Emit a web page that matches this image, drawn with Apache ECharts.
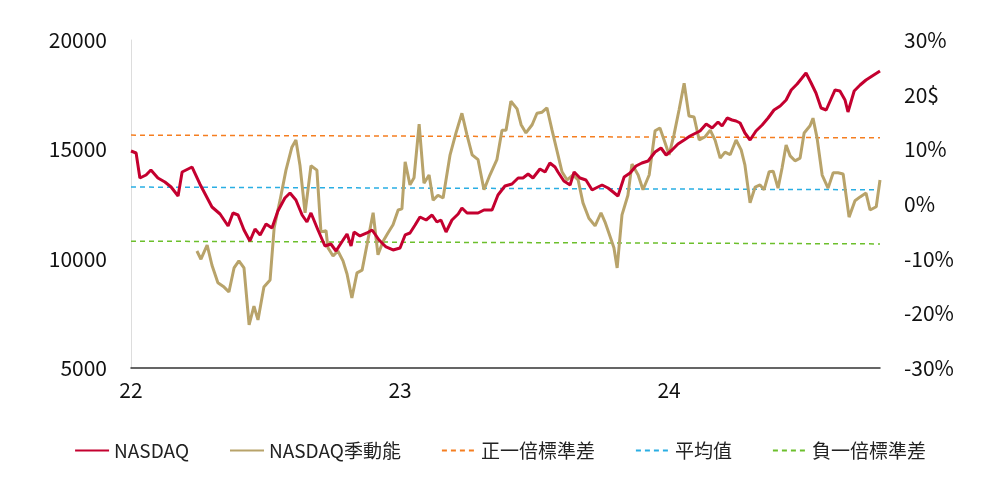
<!DOCTYPE html>
<html>
<head>
<meta charset="utf-8">
<script src="https://cdn.jsdelivr.net/npm/echarts@6/dist/echarts.min.js"></script>
<style>html,body{margin:0;padding:0;background:#fff}#chart{width:1000px;height:493px}</style>
</head>
<body>
<div id="chart"></div>
<script>
// x = decimal year (2022.0 = start of 2022)
var nasdaq = [
  [0.000,14924],[0.019,14833],[0.033,13689],[0.056,13826],[0.074,14055],[0.100,13689],[0.126,13506],[0.149,13278],
  [0.175,12866],[0.190,13964],[0.227,14192],[0.256,13415],[0.301,12363],[0.331,12043],[0.361,11494],[0.379,12089],
  [0.398,11997],[0.420,11311],[0.442,10808],[0.461,11357],[0.480,11082],[0.502,11586],[0.524,11403],[0.546,12180],
  [0.572,12775],[0.591,13003],[0.613,12683],[0.636,11997],[0.654,11677],[0.669,12089],[0.695,11311],[0.721,10580],
  [0.743,10671],[0.762,10351],[0.781,10717],[0.803,11128],[0.818,10580],[0.829,11220],[0.851,11037],[0.877,11174],
  [0.896,11311],[0.922,10854],[0.948,10534],[0.974,10397],[1.000,10488],[1.019,11083],[1.037,11174],[1.056,11540],
  [1.074,11906],[1.097,11769],[1.119,11997],[1.137,11677],[1.152,11769],[1.171,11220],[1.193,11769],[1.216,12043],
  [1.230,12317],[1.249,12089],[1.290,12089],[1.312,12226],[1.342,12226],[1.364,12912],[1.390,13324],[1.416,13415],
  [1.439,13689],[1.457,13689],[1.476,13872],[1.494,13689],[1.520,14101],[1.539,13964],[1.557,14375],[1.576,14192],
  [1.587,13964],[1.609,13552],[1.632,13369],[1.647,13964],[1.669,13689],[1.691,13598],[1.714,13140],[1.728,13232],
  [1.751,13369],[1.773,13232],[1.792,13049],[1.810,12866],[1.833,13735],[1.855,13918],[1.877,14238],[1.899,14375],
  [1.922,14467],[1.948,14878],[1.970,15061],[1.989,14741],[2.011,14970],[2.033,15244],[2.056,15427],[2.078,15610],
  [2.100,15747],[2.115,15839],[2.138,16159],[2.160,15976],[2.182,16250],[2.197,16067],[2.216,16433],[2.234,16342],
  [2.249,16296],[2.264,16204],[2.282,15747],[2.301,15427],[2.323,15839],[2.346,16113],[2.368,16433],[2.390,16799],
  [2.413,16982],[2.435,17256],[2.454,17714],[2.476,17988],[2.494,18262],[2.509,18491],[2.528,18034],[2.546,17576],
  [2.565,16890],[2.584,16799],[2.602,17302],[2.617,17714],[2.635,17668],[2.654,17256],[2.665,16707],[2.688,17668],
  [2.710,17942],[2.732,18171],[2.755,18354],[2.784,18582]
];
var momentum = [
  [0.245,-8.6],[0.260,-10.1],[0.283,-7.5],[0.301,-11.2],[0.323,-14.4],[0.346,-15.2],[0.364,-16.1],[0.383,-11.7],
  [0.401,-10.4],[0.420,-11.7],[0.439,-22.1],[0.457,-18.7],[0.472,-21.2],[0.494,-15.2],[0.517,-13.9],[0.532,-4.4],
  [0.554,0.7],[0.576,6.2],[0.598,10.4],[0.613,11.7],[0.628,7.1],[0.647,-1.6],[0.669,7.0],[0.691,6.2],
  [0.706,-5.1],[0.725,-4.9],[0.732,-8.0],[0.751,-9.5],[0.769,-8.6],[0.788,-10.4],[0.803,-12.8],[0.821,-17.2],
  [0.840,-12.6],[0.859,-12.1],[0.877,-7.5],[0.900,-1.6],[0.918,-9.3],[0.937,-6.8],[0.955,-5.3],[0.974,-3.8],
  [0.993,-1.1],[1.007,-0.9],[1.019,7.7],[1.037,3.5],[1.052,4.8],[1.071,14.6],[1.089,3.8],[1.108,5.3],
  [1.123,0.7],[1.141,1.6],[1.160,1.1],[1.186,9.0],[1.208,13.0],[1.230,16.6],[1.249,12.6],[1.268,9.0],
  [1.290,8.1],[1.312,2.6],[1.334,5.3],[1.360,8.1],[1.379,13.5],[1.394,13.5],[1.412,18.8],[1.435,17.4],
  [1.450,14.5],[1.468,13.0],[1.491,14.5],[1.509,16.6],[1.528,16.8],[1.546,17.6],[1.565,13.5],[1.587,9.0],
  [1.602,5.9],[1.621,4.4],[1.643,5.3],[1.662,4.4],[1.680,0.2],[1.702,-2.6],[1.725,-4.0],[1.747,-1.6],
  [1.762,-3.3],[1.781,-6.0],[1.795,-8.0],[1.807,-11.7],[1.825,-2.0],[1.847,1.6],[1.862,7.3],[1.885,5.3],
  [1.903,2.6],[1.926,5.3],[1.948,13.4],[1.966,13.9],[1.985,11.2],[2.000,9.0],[2.018,12.6],[2.037,17.2],
  [2.056,22.1],[2.074,16.1],[2.093,15.9],[2.112,11.7],[2.134,12.3],[2.153,13.5],[2.171,11.7],[2.190,8.4],
  [2.208,9.5],[2.227,9.0],[2.249,11.7],[2.268,9.9],[2.282,7.1],[2.301,0.2],[2.320,3.1],[2.338,3.5],
  [2.353,2.6],[2.372,5.9],[2.387,6.0],[2.405,2.9],[2.420,6.6],[2.435,10.8],[2.450,8.8],[2.468,7.9],
  [2.487,8.4],[2.502,13.0],[2.524,14.3],[2.535,15.7],[2.550,12.1],[2.569,5.3],[2.591,2.9],[2.610,5.7],
  [2.628,5.7],[2.647,5.5],[2.669,-2.4],[2.691,0.6],[2.710,1.3],[2.732,2.0],[2.747,-1.1],[2.770,-0.5],[2.784,4.4]
];
var plusStd = [[0, 12.6], [2.784, 12.1]];
var meanLine = [[0, 3.1], [2.784, 2.6]];
var minusStd = [[0, -6.8], [2.784, -7.3]];
var rightTicks = {30:'30%', 20:'20$', 10:'10%', 0:'0%', '-10':'-10%', '-20':'-20%', '-30':'-30%'};
var names = ['NASDAQ', 'NASDAQ季動能', '正一倍標準差', '平均值', '負一倍標準差'];

function shift(arr) { return arr.map(function (p) { return [2022 + p[0], p[1]]; }); }

var chart = echarts.init(document.getElementById('chart'));
var font = '"Noto Sans CJK TC", "Noto Sans", sans-serif';
chart.setOption({
  animation: false,
  textStyle: { fontFamily: font },
  grid: { left: 131, right: 120, top: 40, bottom: 125 },
  legend: {
    bottom: 28, left: 'center', itemGap: 40, itemWidth: 34, itemHeight: 12,
    itemStyle: { opacity: 0 },
    textStyle: { fontSize: 19, color: '#222', fontFamily: font },
    data: names
  },
  xAxis: {
    type: 'value', min: 2022, max: 2024.784, interval: 1,
    axisLine: { onZero: false, lineStyle: { color: '#333', width: 1.5 } },
    axisTick: { show: false },
    axisLabel: { showMaxLabel: false, fontSize: 21, color: '#111', margin: 12, formatter: function (v) { return String(v % 100); } },
    splitLine: { show: false }
  },
  yAxis: [{
    type: 'value', min: 5000, max: 20000, interval: 5000,
    axisLine: { show: true, lineStyle: { color: '#ddd' } },
    axisTick: { show: false },
    axisLabel: { fontSize: 21, color: '#111', margin: 24, formatter: function (v) { return String(v); } },
    splitLine: { show: false }
  }, {
    type: 'value', min: -30, max: 30, interval: 10,
    axisLine: { show: false },
    axisTick: { show: false },
    axisLabel: { fontSize: 21, color: '#111', margin: 24, formatter: function (v) { return rightTicks[v]; } },
    splitLine: { show: false }
  }],
  series: [
    { name: names[0], type: 'line', data: shift(nasdaq), symbol: 'none', lineStyle: { color: '#c4002f', width: 3 }, itemStyle: { color: '#c4002f' }, z: 5 },
    { name: names[1], type: 'line', yAxisIndex: 1, data: shift(momentum), symbol: 'none', lineStyle: { color: '#b8a36a', width: 3 }, itemStyle: { color: '#b8a36a' }, z: 4 },
    { name: names[2], type: 'line', yAxisIndex: 1, data: shift(plusStd), symbol: 'none', lineStyle: { color: '#f57e20', width: 1.5, type: [5, 4] }, itemStyle: { color: '#f57e20' } },
    { name: names[3], type: 'line', yAxisIndex: 1, data: shift(meanLine), symbol: 'none', lineStyle: { color: '#2aaee3', width: 1.5, type: [5, 4] }, itemStyle: { color: '#2aaee3' } },
    { name: names[4], type: 'line', yAxisIndex: 1, data: shift(minusStd), symbol: 'none', lineStyle: { color: '#6cbf2c', width: 1.5, type: [5, 4] }, itemStyle: { color: '#6cbf2c' } }
  ]
});
</script>
</body>
</html>
